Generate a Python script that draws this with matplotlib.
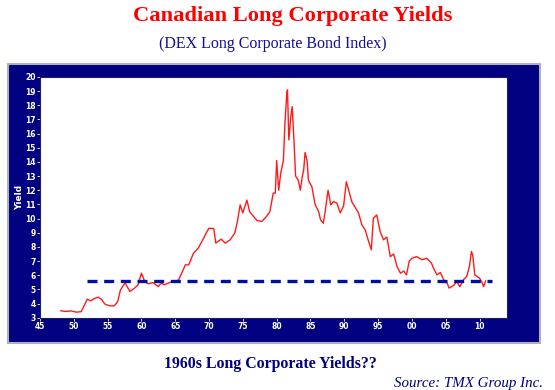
import matplotlib.pyplot as plt
from matplotlib.patches import Rectangle

# values
years = [1948.1, 1948.8, 1949.6, 1950.4, 1951.1, 1951.6, 1952.0, 1952.5, 1953.0, 1953.6,
         1954.1, 1954.6, 1955.3, 1956.0, 1956.5, 1956.9, 1957.4, 1957.6, 1958.3, 1959.0,
         1959.5, 1960.0, 1960.5, 1961.0, 1961.7, 1962.5, 1962.9, 1963.4, 1964.2, 1964.9,
         1965.5, 1966.0, 1966.5, 1967.0, 1967.7, 1968.4, 1969.2, 1969.7, 1970.0, 1970.7,
         1971.0, 1971.8, 1972.4, 1973.1, 1973.8, 1974.2, 1974.6, 1975.0, 1975.6, 1976.0,
         1976.5, 1977.1, 1977.8, 1978.5, 1979.0, 1979.5, 1979.8, 1980.0, 1980.3, 1980.6,
         1981.0, 1981.2, 1981.5, 1981.6, 1981.8, 1982.1, 1982.3, 1982.6, 1982.8, 1983.2,
         1983.5, 1983.8, 1984.0, 1984.2, 1984.5, 1984.7, 1985.2, 1985.7, 1986.2, 1986.5,
         1986.9, 1987.2, 1987.6, 1988.0, 1988.4, 1988.9, 1989.4, 1989.9, 1990.3, 1990.6,
         1991.1, 1991.6, 1992.1, 1992.6, 1993.1, 1993.6, 1994.0, 1994.3, 1994.8, 1995.3,
         1995.8, 1996.3, 1996.8, 1997.3, 1997.8, 1998.3, 1998.8, 1999.2, 1999.6, 2000.0,
         2000.7, 2001.5, 2002.2, 2002.9, 2003.2, 2003.7, 2004.2, 2004.7, 2005.2, 2005.5,
         2006.2, 2006.6, 2007.1, 2007.6, 2008.1, 2008.5, 2008.8, 2009.0, 2009.3, 2010.0,
         2010.3, 2010.6, 2010.9]
yields = [3.50, 3.45, 3.49, 3.40, 3.44, 3.92, 4.32, 4.20, 4.35, 4.46,
          4.30, 3.97, 3.85, 3.85, 4.15, 4.97, 5.33, 5.45, 4.86, 5.10,
          5.33, 6.15, 5.56, 5.40, 5.49, 5.20, 5.45, 5.33, 5.50, 5.56,
          5.68, 6.20, 6.74, 6.74, 7.56, 7.91, 8.62, 9.09, 9.32, 9.30,
          8.27, 8.55, 8.27, 8.50, 8.97, 9.80, 10.97, 10.40, 11.30, 10.50,
          10.20, 9.86, 9.80, 10.15, 10.50, 11.80, 11.80, 14.10, 12.00, 13.20,
          14.10, 16.50, 18.85, 19.08, 15.55, 17.20, 17.90, 15.10, 13.00, 12.70,
          12.00, 13.00, 13.44, 14.66, 14.10, 12.70, 12.26, 10.97, 10.50, 9.90,
          9.68, 10.60, 12.00, 10.97, 11.20, 11.10, 10.40, 10.90, 12.60, 12.10,
          11.20, 10.80, 10.40, 9.55, 9.20, 8.38, 7.80, 10.03, 10.26, 9.10,
          8.50, 8.70, 7.32, 7.50, 6.62, 6.15, 6.30, 6.03, 7.00, 7.20,
          7.32, 7.10, 7.20, 6.85, 6.50, 6.03, 6.20, 5.68, 5.45, 5.10,
          5.30, 5.56, 5.20, 5.68, 5.91, 6.62, 7.68, 7.40, 6.03, 5.80,
          5.56, 5.20, 5.60]

ref_level = 5.6
ref_start, ref_end = 1952.0, 2011.9

xticks = list(range(1945, 2011, 5))
xlabels = ['45', '50', '55', '60', '65', '70', '75', '80', '85', '90', '95', '00', '05', '10']
yticks = list(range(3, 21))

navy = '#000080'

fig = plt.figure(figsize=(5.55, 3.9), dpi=100)
fig.patches.append(Rectangle((0.0144, 0.12), 0.959, 0.716, transform=fig.transFigure,
                             facecolor=navy, edgecolor='#b0b0b8', linewidth=1.5, zorder=0))

ax = fig.add_axes([0.072, 0.185, 0.842, 0.618])
ax.set_zorder(2)
ax.set_facecolor('white')
ax.plot(years, yields, color='#ff1a1a', linewidth=1.0)
ax.plot([ref_start, ref_end], [ref_level, ref_level], color='#00109a', linewidth=2.4,
        linestyle=(0, (3, 2)))

ax.set_xlim(1945, 2014.1)
ax.set_ylim(3, 20)
ax.set_xticks(xticks)
ax.set_xticklabels(xlabels)
ax.set_yticks(yticks)
ax.tick_params(colors='white', labelsize=5.5, length=2, width=0.6, pad=1)
for lbl in ax.get_xticklabels() + ax.get_yticklabels():
    lbl.set_fontweight('bold')
for s in ax.spines.values():
    s.set_color('#202060')
    s.set_linewidth(0.8)
ax.set_ylabel('Yield', color='white', fontsize=6.5, fontweight='bold', labelpad=1)

fig.text(0.527, 0.958, 'Canadian Long Corporate Yields', color='#ff0000', fontsize=16.2,
         fontweight='bold', family='Liberation Serif', ha='center', va='center')
fig.text(0.492, 0.887, '(DEX Long Corporate Bond Index)', color='#10109a', fontsize=11.5,
         family='Liberation Serif', ha='center', va='center')
fig.text(0.487, 0.067, '1960s Long Corporate Yields??', color='#000080', fontsize=11.4,
         fontweight='bold', family='Liberation Serif', ha='center', va='center')
fig.text(0.978, 0.016, 'Source: TMX Group Inc.', color='#000080', fontsize=10.8,
         style='italic', family='Liberation Serif', ha='right', va='center')

fig.savefig('out.png', dpi=100)
